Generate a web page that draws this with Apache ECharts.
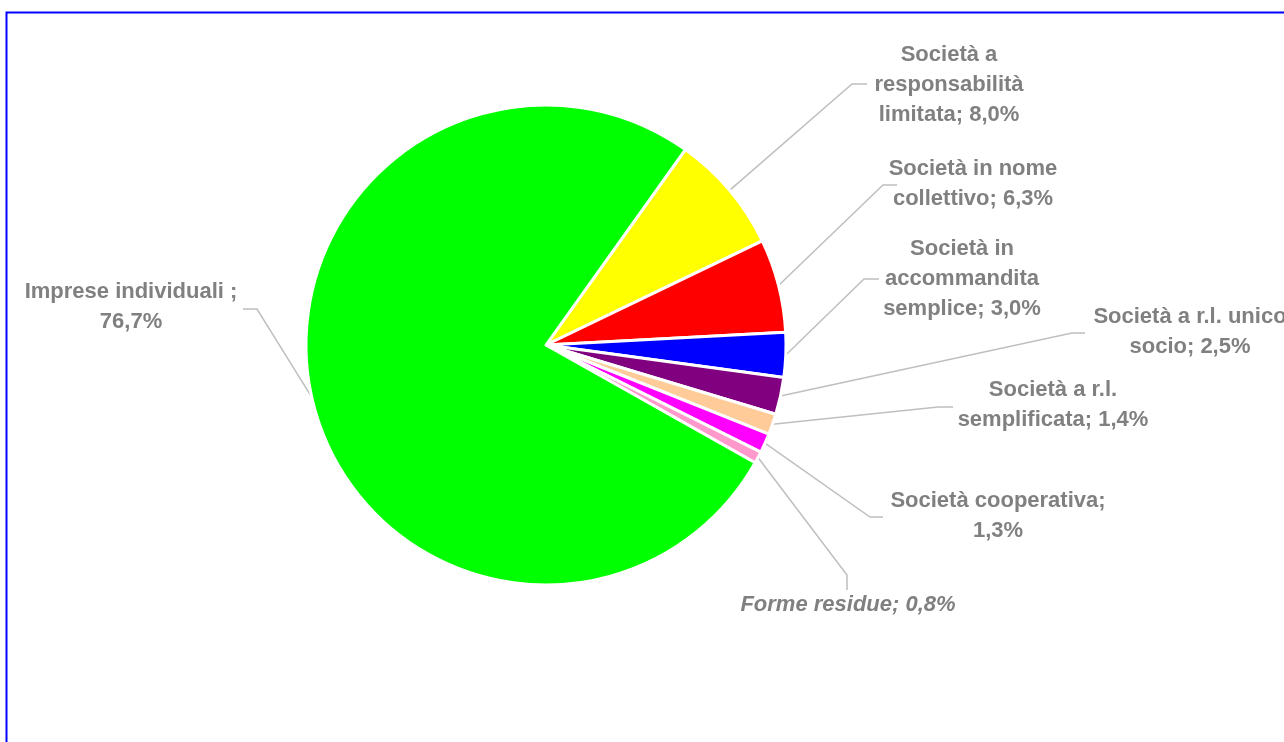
<!DOCTYPE html>
<html>
<head>
<meta charset="utf-8">
<title>Forme giuridiche</title>
<script src="https://cdn.jsdelivr.net/npm/echarts@6/dist/echarts.min.js"></script>
<style>
  html, body { margin: 0; padding: 0; background: #fff; }
  #chart { width: 1284px; height: 742px; }
</style>
</head>
<body>
<div id="chart"></div>
<script>
// categorie (ordine orario, a partire dalla fetta gialla)
const categories = [
  'Società a responsabilità limitata',
  'Società in nome collettivo',
  'Società in accomandita semplice',
  'Società a r.l. unico socio',
  'Società a r.l. semplificata',
  'Società cooperativa',
  'Forme residue',
  'Imprese individuali'
];
// quote percentuali
const shares = [8.0, 6.3, 3.0, 2.5, 1.4, 1.3, 0.8, 76.7];
// testo delle etichette come va a capo nel grafico
const labelNames = [
  'Società a\nresponsabilità\nlimitata',
  'Società in nome\ncollettivo',
  'Società in\naccommandita\nsemplice',
  'Società a r.l. unico\nsocio',
  'Società a r.l.\nsemplificata',
  'Società cooperativa',
  'Forme residue',
  'Imprese individuali'
];
const labelSeps = ['; ', '; ', '; ', '; ', '; ', ';\n', '; ', ' ;\n'];

const sliceColors = ['#FFFF00', '#FF0000', '#0000FF', '#800080', '#FFCC99', '#FF00FF', '#FF99CC', '#00FF00'];

// posizione etichette: centro testo, gomito linea, fine linea
const labelPos = [
  { c: [949, 85],  elbow: [852, 84],  end: [867, 84] },
  { c: [973, 184], elbow: [883, 185], end: [897, 185] },
  { c: [962, 279], elbow: [864, 279], end: [879, 279] },
  { c: [1190, 332], elbow: [1072, 333], end: [1085, 333] },
  { c: [1053, 405], elbow: [938, 407], end: [953, 407] },
  { c: [998, 516], elbow: [870, 517], end: [883, 517] },
  { c: [848, 605], elbow: [847, 575], end: [847, 590] },
  { c: [131, 307], elbow: [257, 309], end: [243, 309] }
];

const fmtPct = v => v.toFixed(1).replace('.', ',') + '%';

const chart = echarts.init(document.getElementById('chart'));

const option = {
  animation: false,
  backgroundColor: '#fff',
  graphic: [{
    type: 'rect',
    shape: { x: 6.5, y: 12.5, width: 1300, height: 800 },
    style: { fill: 'none', stroke: '#0000FF', lineWidth: 2 },
    z: 10
  }],
  series: [{
    type: 'pie',
    center: [546, 345],
    radius: 240,
    startAngle: 54.5,
    clockwise: true,
    avoidLabelOverlap: false,
    data: categories.map((name, i) => ({
      name: name,
      value: shares[i],
      itemStyle: { color: sliceColors[i] },
      label: i === 6 ? { fontStyle: 'italic' } : {}
    })),
    itemStyle: { borderColor: '#fff', borderWidth: 3 },
    label: {
      show: true,
      position: 'outside',
      color: '#808080',
      fontFamily: '"Liberation Sans", Arial, sans-serif',
      fontWeight: 'bold',
      fontSize: 22,
      lineHeight: 30,
      align: 'center',
      formatter: p => labelNames[p.dataIndex] + labelSeps[p.dataIndex] + fmtPct(p.value)
    },
    labelLine: {
      show: true,
      length: 10,
      length2: 10,
      lineStyle: { color: '#BFBFBF', width: 1.5 }
    },
    labelLayout: params => {
      const pos = labelPos[params.dataIndex];
      const start = params.labelLinePoints ? params.labelLinePoints[0] : pos.elbow;
      return {
        x: pos.c[0],
        y: pos.c[1],
        align: 'center',
        verticalAlign: 'middle',
        labelLinePoints: [start, pos.elbow, pos.end]
      };
    },
    emphasis: { disabled: true }
  }]
};

chart.setOption(option);
</script>
</body>
</html>
